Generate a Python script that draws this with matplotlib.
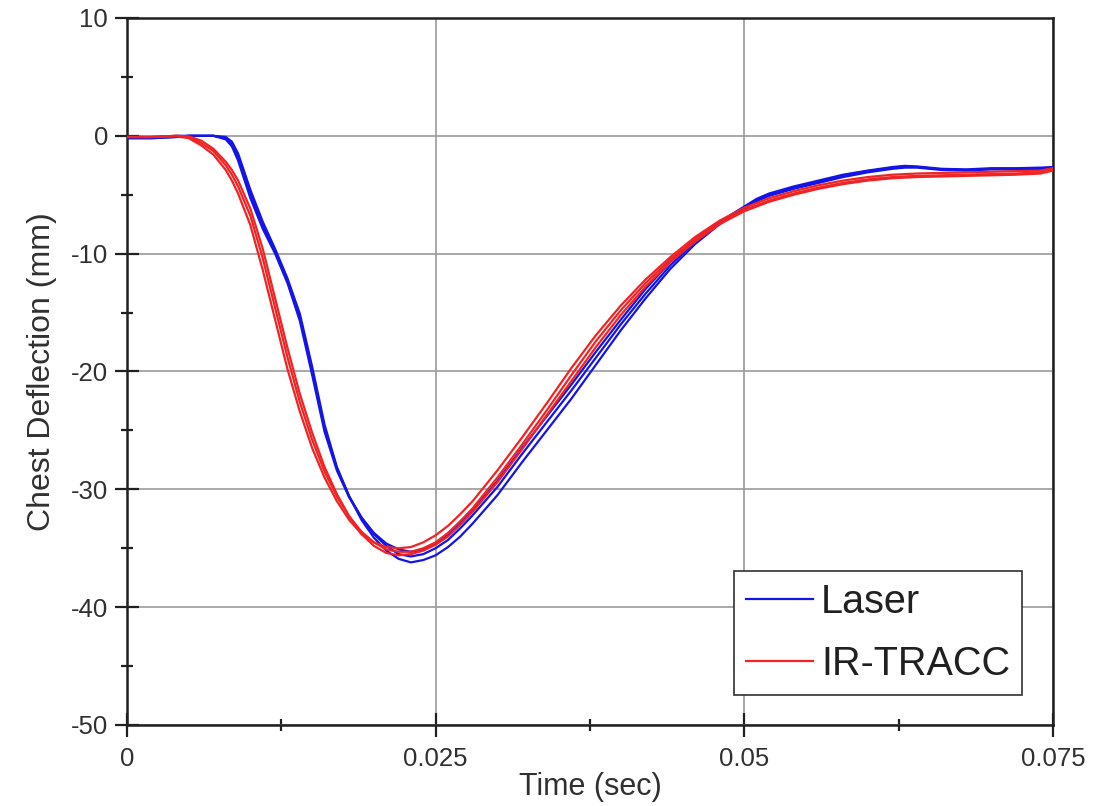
import matplotlib
matplotlib.use("Agg")
import matplotlib.pyplot as plt
from matplotlib.lines import Line2D
from matplotlib.ticker import MultipleLocator
import numpy as np

plt.rcParams['font.family'] = ['Liberation Sans', 'DejaVu Sans']
plt.rcParams['axes.unicode_minus'] = False

# time in milliseconds (converted to seconds for plotting)
time_ms = [0, 2, 4, 5, 6, 7, 8, 8.5, 9, 10, 11, 12, 13, 14, 15, 16, 17, 18, 19, 20,
           21, 22, 23, 24, 25, 26, 27, 28, 30, 32, 34, 36, 38, 40, 42, 44, 46, 48,
           50, 51, 52, 54, 56, 58, 60, 62, 63, 64, 66, 68, 70, 72, 74, 75]

laser_1 = [-0.2, -0.2, -0.1, 0, 0, 0, -0.1, -0.5, -1.5, -4.6, -7.3, -9.6, -12.1, -15.1,
           -19.6, -24.5, -28.1, -30.6, -32.6, -34.1, -35.2, -35.9, -36.2, -36.0, -35.6,
           -34.9, -34.0, -32.9, -30.5, -27.7, -25.0, -22.3, -19.4, -16.5, -13.8, -11.3,
           -9.2, -7.5, -6.2, -5.55, -5.1, -4.5, -4.0, -3.5, -3.1, -2.8, -2.7, -2.7, -2.9,
           -2.95, -2.85, -2.85, -2.8, -2.75]
laser_2 = [-0.2, -0.2, -0.1, 0, 0, 0, -0.2, -0.7, -1.8, -5.0, -7.6, -9.8, -12.3, -15.4,
           -20.0, -24.8, -28.2, -30.6, -32.4, -33.8, -34.8, -35.5, -35.7, -35.5, -35.0,
           -34.3, -33.3, -32.2, -29.8, -27.0, -24.3, -21.6, -18.8, -16.0, -13.4, -11.0,
           -9.0, -7.4, -6.1, -5.45, -5.0, -4.4, -3.9, -3.4, -3.0, -2.7, -2.6, -2.65, -2.85,
           -2.9, -2.8, -2.8, -2.75, -2.7]
laser_3 = [-0.15, -0.15, 0, 0, 0, 0, -0.3, -0.9, -2.1, -5.3, -7.9, -10.0, -12.5, -15.7,
           -20.3, -25.1, -28.4, -30.7, -32.4, -33.7, -34.6, -35.1, -35.3, -35.1, -34.6,
           -33.9, -32.9, -31.8, -29.3, -26.5, -23.8, -21.1, -18.3, -15.6, -13.0, -10.7,
           -8.8, -7.3, -6.0, -5.35, -4.9, -4.3, -3.8, -3.3, -2.95, -2.65, -2.55, -2.6, -2.8,
           -2.85, -2.75, -2.75, -2.7, -2.65]

irtracc_1 = [-0.1, -0.1, -0.05, -0.2, -0.8, -1.6, -2.9, -3.8, -4.9, -7.6, -11.4, -15.6,
             -19.8, -23.4, -26.5, -29.0, -31.0, -32.6, -33.8, -34.5, -34.9, -35.0, -34.9,
             -34.5, -33.9, -33.1, -32.1, -31.0, -28.4, -25.6, -22.7, -19.7, -16.9, -14.4,
             -12.2, -10.3, -8.6, -7.2, -6.1, -5.7, -5.3, -4.7, -4.2, -3.8, -3.5, -3.3,
             -3.25, -3.2, -3.15, -3.1, -3.05, -3.0, -2.95, -2.75]
irtracc_2 = [-0.1, -0.1, 0, -0.1, -0.6, -1.3, -2.5, -3.3, -4.3, -6.8, -10.4, -14.6,
             -18.8, -22.6, -25.8, -28.5, -30.6, -32.3, -33.6, -34.5, -35.1, -35.3, -35.3,
             -35.0, -34.5, -33.7, -32.7, -31.6, -29.0, -26.2, -23.3, -20.3, -17.4, -14.8,
             -12.5, -10.5, -8.8, -7.4, -6.3, -5.9, -5.5, -4.9, -4.4, -4.0, -3.7, -3.5,
             -3.45, -3.4, -3.35, -3.3, -3.25, -3.2, -3.1, -2.9]
irtracc_3 = [-0.1, -0.1, 0, -0.05, -0.4, -1.1, -2.2, -2.9, -3.8, -6.2, -9.6, -13.8,
             -18.0, -21.9, -25.2, -28.1, -30.4, -32.3, -33.8, -34.8, -35.4, -35.6, -35.5,
             -35.2, -34.7, -34.0, -33.0, -31.9, -29.4, -26.6, -23.7, -20.8, -17.9, -15.2,
             -12.8, -10.7, -9.0, -7.5, -6.4, -6.0, -5.6, -5.0, -4.5, -4.1, -3.8, -3.6,
             -3.55, -3.5, -3.45, -3.4, -3.35, -3.3, -3.2, -2.95]

legend_labels = ["Laser", "IR-TRACC"]
x_ticks = [0, 0.025, 0.05, 0.075]
x_tick_labels = ["0", "0.025", "0.05", "0.075"]
y_ticks = [10, 0, -10, -20, -30, -40, -50]

BLUE = '#1414e6'
RED = '#f02424'
TXT = '#303030'

t = np.array(time_ms) / 1000.0

fig = plt.figure(figsize=(11.07, 8.06), dpi=100)
ax = fig.add_axes([0.1147, 0.1005, 0.8365, 0.8772])

for ys in (laser_1, laser_2, laser_3):
    ax.plot(t, ys, color=BLUE, lw=1.6, solid_capstyle='round', zorder=3)
for ys in (irtracc_1, irtracc_2, irtracc_3):
    ax.plot(t, ys, color=RED, lw=1.6, solid_capstyle='round', zorder=3)

ax.set_xlim(0, 0.075)
ax.set_ylim(-50, 10)
ax.set_xticks(x_ticks)
ax.set_xticklabels(x_tick_labels)
ax.set_yticks(y_ticks)
ax.xaxis.set_minor_locator(MultipleLocator(0.0125))
ax.yaxis.set_minor_locator(MultipleLocator(5))

ax.grid(True, which='major', color='#9a9a9a', lw=1.2, zorder=1)
ax.set_axisbelow(True)

for s in ax.spines.values():
    s.set_color('#202020')
    s.set_linewidth(1.8)

ax.tick_params(which='major', direction='inout', length=17, width=1.6,
               color='#202020', labelsize=18.5, labelcolor=TXT)
ax.tick_params(which='minor', direction='inout', length=9, width=1.6, color='#202020')
ax.tick_params(axis='x', which='major', pad=7)
ax.tick_params(axis='y', which='major', pad=5)

ax.set_xlabel("Time (sec)", fontsize=22, color=TXT, labelpad=1)
ax.set_ylabel("Chest Deflection (mm)", fontsize=23, color=TXT, labelpad=10)

handles = [Line2D([0], [0], color=BLUE, lw=1.6), Line2D([0], [0], color=RED, lw=1.6)]
leg = ax.legend(handles, legend_labels, loc='lower right',
                bbox_to_anchor=(0.9665, 0.0424), borderaxespad=0,
                fontsize=28.5, fancybox=False, framealpha=1, edgecolor='#303030',
                handlelength=1.7, handletextpad=0.2, borderpad=0.3,
                labelspacing=0.62)
leg.get_frame().set_linewidth(1.2)
for txt in leg.get_texts():
    txt.set_color('#202020')

fig.savefig("out.png", dpi=100, facecolor='white')
